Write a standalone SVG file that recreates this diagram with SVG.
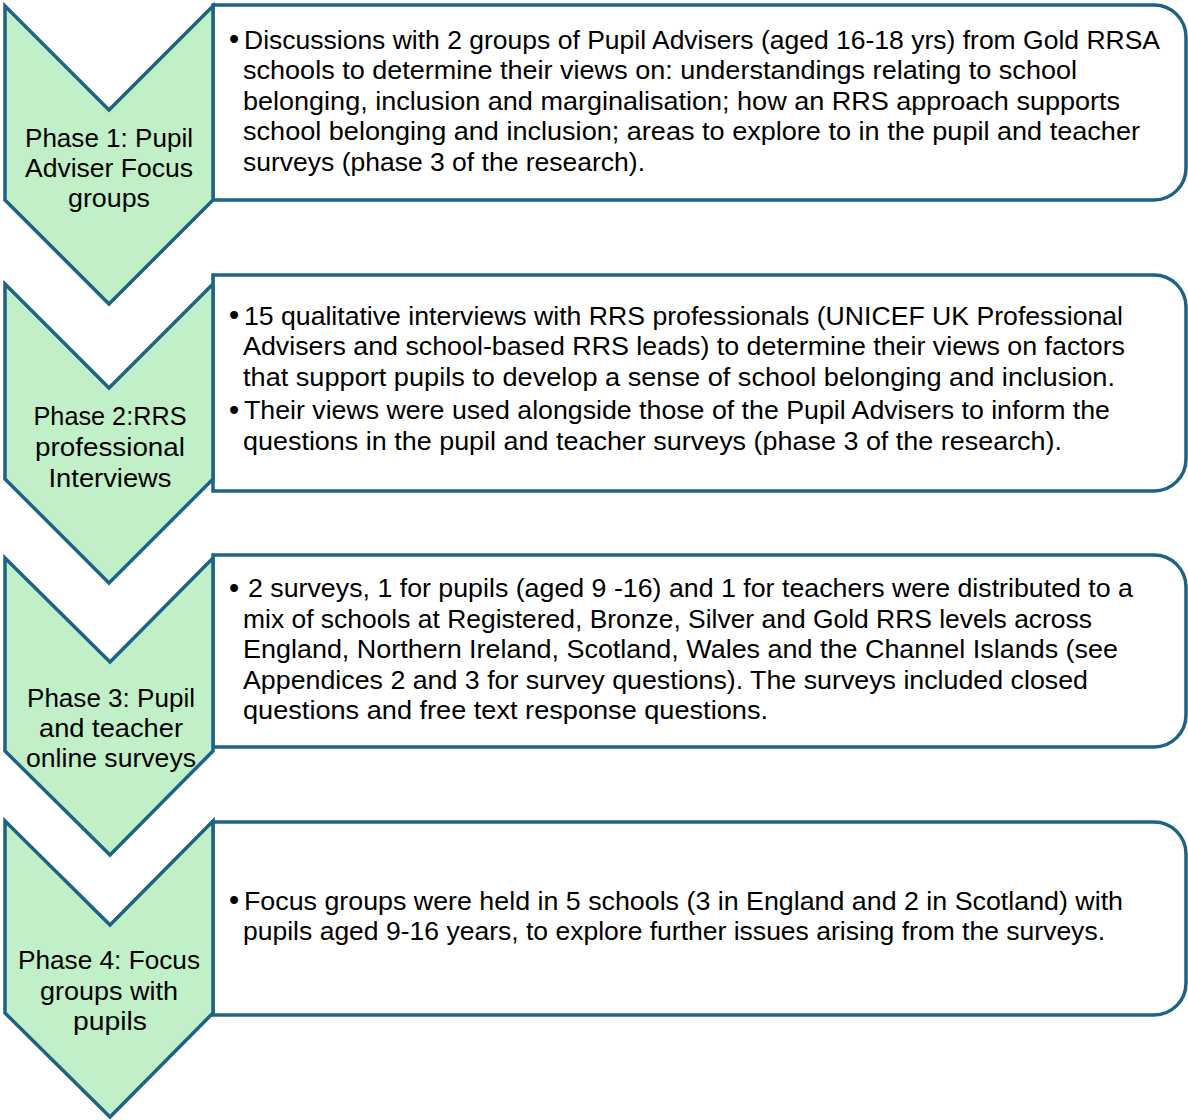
<svg xmlns="http://www.w3.org/2000/svg" width="1188" height="1120" viewBox="0 0 1188 1120">
<style>
.box{fill:#ffffff;stroke:#1E6285;stroke-width:3.5;stroke-linejoin:miter}
.chev{fill:#C1F0C8;stroke:#1E6285;stroke-width:3.5;stroke-linejoin:miter}
.t{font-family:"Liberation Sans",Arial,sans-serif;font-size:25px;fill:#000000}
.b{font-family:"Liberation Sans",Arial,sans-serif;font-size:29px;fill:#000000}
.c{font-family:"Liberation Sans",Arial,sans-serif;font-size:25px;fill:#000000;text-anchor:middle}
</style>
<rect width="1188" height="1120" fill="#ffffff"/>
<g id="box1">
<path class="box" d="M213,5 H1154 A32,32 0 0 1 1186,37 V168 A32,32 0 0 1 1154,200 H213 Z"/>
<text class="b" x="229" y="49">•</text>
<text class="t" x="244" y="48.5" textLength="916" lengthAdjust="spacingAndGlyphs">Discussions with 2 groups of Pupil Advisers (aged 16-18 yrs) from Gold RRSA</text>
<text class="t" x="243" y="79" textLength="834" lengthAdjust="spacingAndGlyphs">schools to determine their views on: understandings relating to school</text>
<text class="t" x="243" y="109.5" textLength="877" lengthAdjust="spacingAndGlyphs">belonging, inclusion and marginalisation; how an RRS approach supports</text>
<text class="t" x="243" y="140" textLength="897" lengthAdjust="spacingAndGlyphs">school belonging and inclusion; areas to explore to in the pupil and teacher</text>
<text class="t" x="243" y="170.5" textLength="402" lengthAdjust="spacingAndGlyphs">surveys (phase 3 of the research).</text>
</g>
<g id="box2">
<path class="box" d="M213,275 H1154 A32,32 0 0 1 1186,307 V459 A32,32 0 0 1 1154,491 H213 Z"/>
<text class="b" x="229" y="325">•</text>
<text class="t" x="244" y="324.5" textLength="879" lengthAdjust="spacingAndGlyphs">15 qualitative interviews with RRS professionals (UNICEF UK Professional</text>
<text class="t" x="243" y="355" textLength="882" lengthAdjust="spacingAndGlyphs">Advisers and school-based RRS leads) to determine their views on factors</text>
<text class="t" x="243" y="385.5" textLength="872" lengthAdjust="spacingAndGlyphs">that support pupils to develop a sense of school belonging and inclusion.</text>
<text class="b" x="229" y="419.5">•</text>
<text class="t" x="244" y="419" textLength="866" lengthAdjust="spacingAndGlyphs">Their views were used alongside those of the Pupil Advisers to inform the</text>
<text class="t" x="243" y="449.5" textLength="819" lengthAdjust="spacingAndGlyphs">questions in the pupil and teacher surveys (phase 3 of the research).</text>
</g>
<g id="box3">
<path class="box" d="M213,555 H1154 A32,32 0 0 1 1186,587 V715 A32,32 0 0 1 1154,747 H213 Z"/>
<text class="b" x="229" y="597.5">•</text>
<text class="t" x="248" y="597" textLength="885" lengthAdjust="spacingAndGlyphs">2 surveys, 1 for pupils (aged 9 -16) and 1 for teachers were distributed to a</text>
<text class="t" x="243" y="627.5" textLength="849" lengthAdjust="spacingAndGlyphs">mix of schools at Registered, Bronze, Silver and Gold RRS levels across</text>
<text class="t" x="243" y="658" textLength="875" lengthAdjust="spacingAndGlyphs">England, Northern Ireland, Scotland, Wales and the Channel Islands (see</text>
<text class="t" x="243" y="688.5" textLength="845" lengthAdjust="spacingAndGlyphs">Appendices 2 and 3 for survey questions). The surveys included closed</text>
<text class="t" x="243" y="719" textLength="525" lengthAdjust="spacingAndGlyphs">questions and free text response questions.</text>
</g>
<g id="box4">
<path class="box" d="M213,822 H1154 A32,32 0 0 1 1186,854 V983 A32,32 0 0 1 1154,1015 H213 Z"/>
<text class="b" x="229" y="910">•</text>
<text class="t" x="244" y="909.5" textLength="879" lengthAdjust="spacingAndGlyphs">Focus groups were held in 5 schools (3 in England and  2 in Scotland) with</text>
<text class="t" x="243" y="940" textLength="862" lengthAdjust="spacingAndGlyphs">pupils aged 9-16 years, to explore further issues arising from the surveys.</text>
</g>
<g id="phase1">
<polygon class="chev" points="5,6 109,110 213,6 213,200 109,304 5,200"/>
<text class="c" x="109" y="146.5" textLength="168" lengthAdjust="spacingAndGlyphs">Phase 1: Pupil</text>
<text class="c" x="109" y="177" textLength="168" lengthAdjust="spacingAndGlyphs">Adviser Focus</text>
<text class="c" x="109" y="207" textLength="82" lengthAdjust="spacingAndGlyphs">groups</text>
</g>
<g id="phase2">
<polygon class="chev" points="5,284 109,388 213,284 213,479 109,583 5,479"/>
<text class="c" x="110" y="425" textLength="153" lengthAdjust="spacingAndGlyphs">Phase 2:RRS</text>
<text class="c" x="110" y="456" textLength="150" lengthAdjust="spacingAndGlyphs">professional</text>
<text class="c" x="110" y="487" textLength="123" lengthAdjust="spacingAndGlyphs">Interviews</text>
</g>
<g id="phase3">
<polygon class="chev" points="5,558 110,662 213,558 213,751 110,855 5,751"/>
<text class="c" x="111" y="707" textLength="168" lengthAdjust="spacingAndGlyphs">Phase 3: Pupil</text>
<text class="c" x="111" y="737" textLength="144" lengthAdjust="spacingAndGlyphs">and teacher</text>
<text class="c" x="111" y="767" textLength="170" lengthAdjust="spacingAndGlyphs">online surveys</text>
</g>
<g id="phase4">
<polygon class="chev" points="5,821 110,925 213,821 213,1013 110,1117 5,1013"/>
<text class="c" x="109" y="968.5" textLength="182" lengthAdjust="spacingAndGlyphs">Phase 4: Focus</text>
<text class="c" x="109" y="999.5" textLength="138" lengthAdjust="spacingAndGlyphs">groups with</text>
<text class="c" x="110" y="1030" textLength="74" lengthAdjust="spacingAndGlyphs">pupils</text>
</g>
<g id="connectors"></g>
</svg>
